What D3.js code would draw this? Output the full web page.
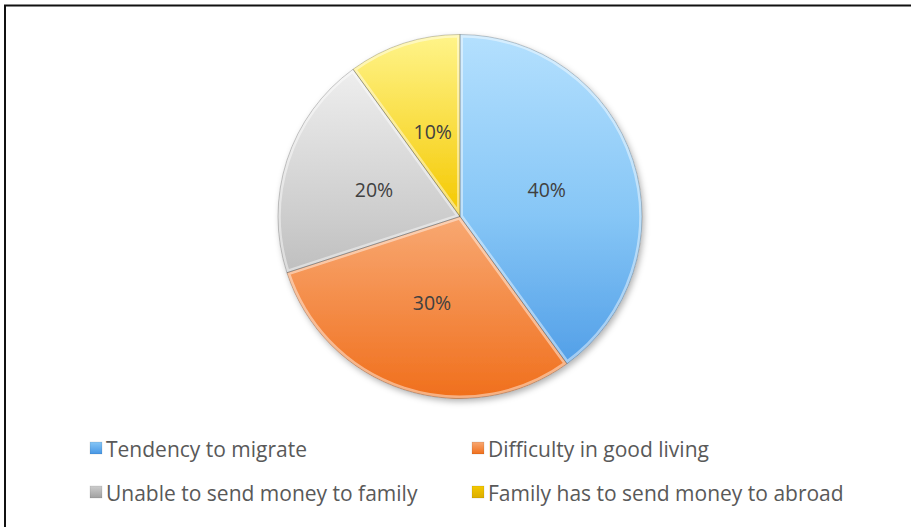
<!DOCTYPE html>
<html>
<head>
<meta charset="utf-8">
<script src="https://cdn.jsdelivr.net/npm/d3@7"></script>
<style>
  body { margin: 0; background: #fff; }
  #container { width: 911px; height: 527px; }
  text { font-family: "Open Sans", Lato, sans-serif; }
</style>
</head>
<body>
<div id="container"></div>
<script>
var categories = ["Tendency to migrate", "Difficulty in good living", "Unable to send money to family", "Family has to send money to abroad"];
var values = [40, 30, 20, 10];
var labels = ["40%", "30%", "20%", "10%"];
var gradStops = [
    ["#b4e0fe", "#86c6f6", "#4696e4"],
    ["#fde0cc", "#f8a872", "#f06f1c"],
    ["#f6f6f6", "#cdcdcd", "#a0a0a0"],
    ["#fff48a", "#f4c800", "#dcae00"]
];

var width = 911,
    height = 527;

var cx = 460, cy = 216.5, r = 182;

var svg = d3.select("#container")
    .append("svg")
    .attr("width", width)
    .attr("height", height);

var defs = svg.append("defs");

// soft shadow under the pie
var shadow = defs.append("filter")
    .attr("id", "shadow")
    .attr("x", "-20%").attr("y", "-20%")
    .attr("width", "140%").attr("height", "140%");
shadow.append("feDropShadow")
    .attr("dx", 2).attr("dy", 3)
    .attr("stdDeviation", 3)
    .attr("flood-color", "#000")
    .attr("flood-opacity", 0.3);

gradStops.forEach(function (s, i) {
    // slice gradients live in the translated group, so centre is 0,0
    var g = defs.append("linearGradient")
        .attr("id", "grad" + i)
        .attr("gradientUnits", "userSpaceOnUse")
        .attr("x1", 0).attr("x2", 0)
        .attr("y1", -r).attr("y2", r);
    g.append("stop").attr("offset", "0%").attr("stop-color", s[0]);
    g.append("stop").attr("offset", "50%").attr("stop-color", s[1]);
    g.append("stop").attr("offset", "100%").attr("stop-color", s[2]);

    var lg = defs.append("linearGradient")
        .attr("id", "lgrad" + i)
        .attr("x1", 0).attr("x2", 0)
        .attr("y1", 0).attr("y2", 1);
    lg.append("stop").attr("offset", "0%").attr("stop-color", s[1]);
    lg.append("stop").attr("offset", "100%").attr("stop-color", s[2]);
});

// frame: only top and left edges show
svg.append("path")
    .attr("d", d3.line()([[5, height], [5, 5.5], [width, 5.5]]))
    .attr("fill", "none")
    .attr("stroke", "#111")
    .attr("stroke-width", 2);

var pie = d3.pie().sort(null).value(function (d) { return d; });
var arc = d3.arc().innerRadius(0).outerRadius(r);
var arcs = pie(values);

var g = svg.append("g")
    .attr("transform", "translate(" + cx + "," + cy + ")");

var slices = g.append("g").attr("filter", "url(#shadow)");

arcs.forEach(function (d, i) {
    defs.append("clipPath")
        .attr("id", "clip" + i)
        .append("path")
        .attr("d", arc(d));
});

slices.selectAll("path.slice")
    .data(arcs)
    .enter()
    .append("path")
    .attr("class", "slice")
    .attr("d", arc)
    .attr("fill", function (d, i) { return "url(#grad" + i + ")"; });

// bevel highlight along each slice edge
g.selectAll("path.bevel")
    .data(arcs)
    .enter()
    .append("path")
    .attr("class", "bevel")
    .attr("d", arc)
    .attr("clip-path", function (d, i) { return "url(#clip" + i + ")"; })
    .attr("fill", "none")
    .attr("stroke", "#fff")
    .attr("stroke-opacity", 0.45)
    .attr("stroke-width", 6);

g.selectAll("path.edge")
    .data(arcs)
    .enter()
    .append("path")
    .attr("class", "edge")
    .attr("d", arc)
    .attr("fill", "none")
    .attr("stroke", "#000")
    .attr("stroke-opacity", 0.25)
    .attr("stroke-width", 0.8);

var labelPos = [[86.7, -26.5], [-28, 86.5], [-86, -26.5], [-27.3, -84]];

g.selectAll("text.pct")
    .data(arcs)
    .enter()
    .append("text")
    .attr("class", "pct")
    .attr("x", function (d, i) { return labelPos[i][0]; })
    .attr("y", function (d, i) { return labelPos[i][1]; })
    .attr("dy", "0.35em")
    .attr("text-anchor", "middle")
    .attr("font-size", 19.5)
    .attr("fill", "#404040")
    .text(function (d, i) { return labels[i]; });

// legend
var legendPos = [[90, 442], [472, 442], [90, 486], [472, 486]];

var legend = svg.selectAll("g.legend")
    .data(categories)
    .enter()
    .append("g")
    .attr("class", "legend")
    .attr("transform", function (d, i) {
        return "translate(" + legendPos[i][0] + "," + legendPos[i][1] + ")";
    });

legend.append("rect")
    .attr("width", 12)
    .attr("height", 12)
    .attr("fill", function (d, i) { return "url(#lgrad" + i + ")"; })
    .attr("stroke", "#000")
    .attr("stroke-opacity", 0.15)
    .attr("stroke-width", 0.6);

legend.append("text")
    .attr("x", 16)
    .attr("y", 15)
    .attr("font-size", 21)
    .attr("fill", "#595959")
    .text(function (d) { return d; });
</script>
</body>
</html>
